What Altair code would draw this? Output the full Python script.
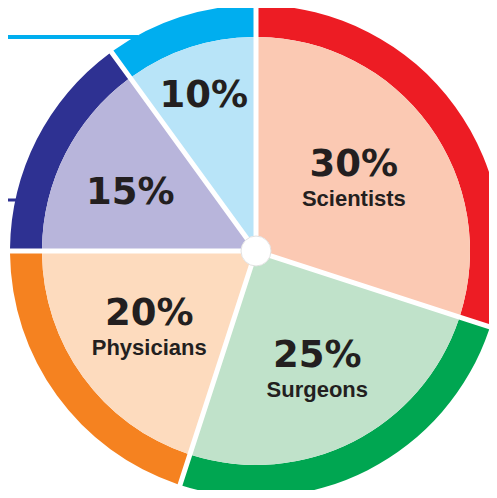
import altair as alt
import pandas as pd

# ---- data ----
groups = ["Scientists", "Surgeons", "Physicians", "Group 15", "Group 10"]
shares = [30, 25, 20, 15, 10]
shown_names = ["Scientists", "Surgeons", "Physicians", "", ""]

# ---- styles / layout ----
ring_colors = ["#ED1C24", "#00A651", "#F58220", "#2E3192", "#00AEEF"]
fill_colors = ["#FBC9B3", "#C0E2CA", "#FDDBBE", "#B8B5DB", "#B8E4F8"]
label_radius = [121, 135, 132, 141, 169]

CX, CY = 248, 243
R_OUT, R_IN, R_HOLE = 246, 214, 15
GAP = 5.0

df = pd.DataFrame({
    "group": groups,
    "share": shares,
    "name": shown_names,
    "order": list(range(len(groups))),
    "lr": label_radius,
    "pct": [f"{s}%" for s in shares],
})

ring_pad = GAP / (R_IN ** 2 + R_OUT ** 2) ** 0.5
fill_pad = GAP / (R_HOLE ** 2 + R_IN ** 2) ** 0.5

theta_scale = alt.Scale(domain=[0, sum(shares)])

base = alt.Chart(df).transform_window(
    end="sum(share)", sort=[alt.SortField("order")], frame=[None, 0]
).transform_calculate(
    start="datum.end - datum.share",
    mid="datum.end - datum.share / 2",
).encode(
    x=alt.value(CX),
    y=alt.value(CY),
)

# leader lines at left (drawn first, hidden under ring)
lines_df = pd.DataFrame({"k": ["a"]})
line_blue = alt.Chart(lines_df).mark_rule(color="#00AEEF", strokeWidth=4).encode(
    x=alt.value(-10), x2=alt.value(130), y=alt.value(29)
)
line_navy = alt.Chart(lines_df).mark_rule(color="#2E3192", strokeWidth=3).encode(
    x=alt.value(-10), x2=alt.value(25), y=alt.value(192)
)

ring = base.mark_arc(radius=R_OUT, radius2=R_IN, padAngle=ring_pad).encode(
    theta=alt.Theta("start:Q", scale=theta_scale),
    theta2="end:Q",
    color=alt.Color("group:N", scale=alt.Scale(domain=groups, range=ring_colors), legend=None),
)
inner = base.mark_arc(radius=R_IN, radius2=R_HOLE, padAngle=fill_pad).encode(
    theta=alt.Theta("start:Q", scale=theta_scale),
    theta2="end:Q",
    fill=alt.Fill("group:N", scale=alt.Scale(domain=groups, range=fill_colors), legend=None),
)

hole = alt.Chart(lines_df).mark_point(
    shape="circle", filled=True, size=(2 * R_HOLE) ** 2, fill="white", stroke="#e2e2e2",
    strokeWidth=1, opacity=1
).encode(x=alt.value(CX), y=alt.value(CY))

label_base = base.encode(
    theta=alt.Theta("mid:Q", scale=theta_scale),
    radius=alt.Radius("lr:Q", scale=None),
)

pct_top = label_base.mark_text(
    font="DejaVu Sans", fontWeight="bold", fontSize=37, color="#231F20", dy=-15
).encode(
    text=alt.condition("datum.name != ''", "pct:N", alt.value("")),
)
pct_solo = label_base.mark_text(
    font="DejaVu Sans", fontWeight="bold", fontSize=37, color="#231F20", dy=6
).encode(
    text=alt.condition("datum.name == ''", "pct:N", alt.value("")),
)
names = label_base.mark_text(
    font="Liberation Sans", fontWeight="bold", fontSize=22, color="#231F20", dy=19
).encode(
    text="name:N",
)

chart = alt.layer(line_blue, line_navy, ring, inner, hole, pct_top, pct_solo, names).properties(
    width=481, height=482, autosize=alt.AutoSizeParams(type="none"), padding=0
).configure_view(stroke=None)

chart.save("out.html", embed_options={"renderer": "svg", "actions": False})
